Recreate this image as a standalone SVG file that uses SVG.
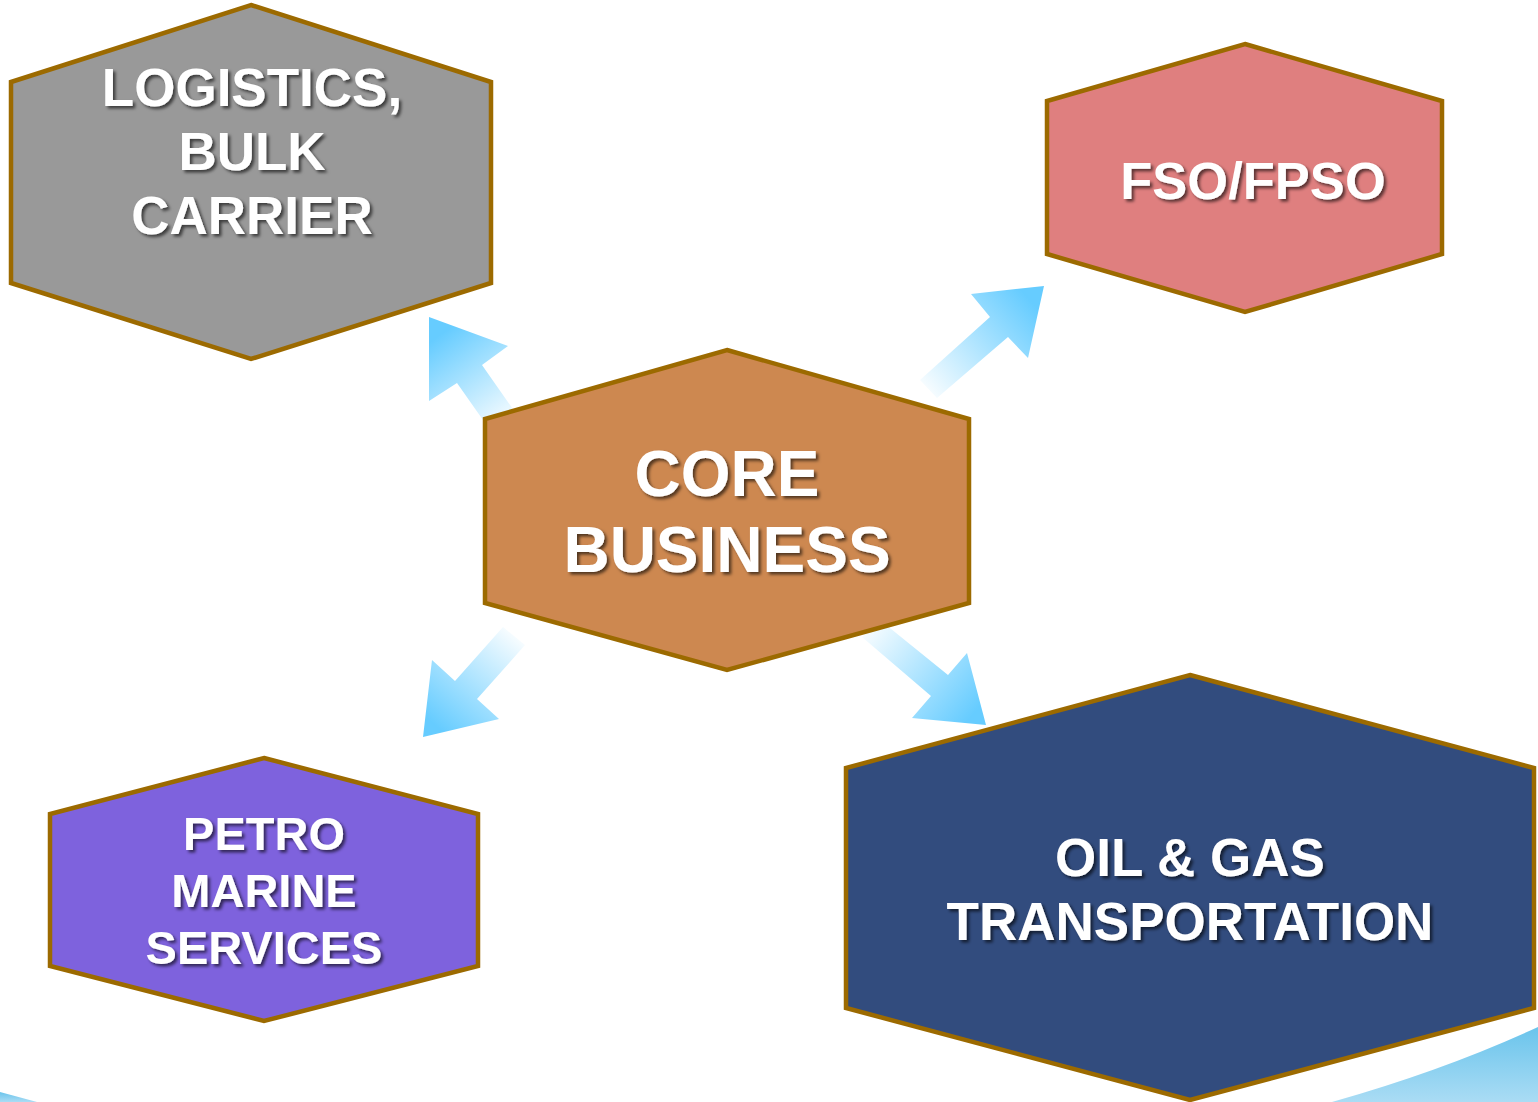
<svg xmlns="http://www.w3.org/2000/svg" width="1538" height="1102" viewBox="0 0 1538 1102">
<defs>
<style>
.hex{stroke:#9c6a00;stroke-width:4.5;stroke-linejoin:miter}
.lbl{font-family:"Liberation Sans",Arial,sans-serif;font-weight:bold;fill:#ffffff;text-anchor:middle;filter:url(#sh)}
</style>
<filter id="sh" x="-10%" y="-20%" width="120%" height="150%">
<feDropShadow dx="2.5" dy="2.5" stdDeviation="1.5" flood-color="#000" flood-opacity="0.6"/>
</filter>
<linearGradient id="g1" gradientUnits="userSpaceOnUse" x1="440" y1="335" x2="505" y2="425"><stop offset="0" stop-color="#66ccff"/><stop offset="1" stop-color="#66ccff" stop-opacity="0.05"/></linearGradient>
<linearGradient id="g2" gradientUnits="userSpaceOnUse" x1="1030" y1="300" x2="925" y2="392"><stop offset="0" stop-color="#66ccff"/><stop offset="1" stop-color="#66ccff" stop-opacity="0.03"/></linearGradient>
<linearGradient id="g3" gradientUnits="userSpaceOnUse" x1="435" y1="725" x2="515" y2="632"><stop offset="0" stop-color="#66ccff"/><stop offset="1" stop-color="#66ccff" stop-opacity="0.03"/></linearGradient>
<linearGradient id="g4" gradientUnits="userSpaceOnUse" x1="975" y1="712" x2="868" y2="625"><stop offset="0" stop-color="#66ccff"/><stop offset="1" stop-color="#66ccff" stop-opacity="0.03"/></linearGradient>
<linearGradient id="bg" x1="0" y1="0" x2="0" y2="1"><stop offset="0" stop-color="#6ac4ec"/><stop offset="1" stop-color="#aadcf4"/></linearGradient>
</defs>
<rect width="1538" height="1102" fill="#ffffff"/>
<path d="M1332,1102 Q1445,1070 1538,1027 L1538,1102 Z" fill="url(#bg)"/>
<path d="M0,1092 L37,1102 L0,1102 Z" fill="url(#bg)"/>
<g id="connectors">
<polygon points="429,317 508,346 482,365 515,412 490,430 457,383 429,401" fill="url(#g1)"/>
<polygon points="1044,286 971,294 990,317 920,380 937,398 1008,337 1028,358" fill="url(#g2)"/>
<polygon points="423,737 432,660 455,681 503,627 525,645 477,699 499,719" fill="url(#g3)"/>
<polygon points="986,725 967,653 948,675 880,620 862,637 931,696 912,718" fill="url(#g4)"/>
</g>
<g id="logistics">
<polygon class="hex" points="251,5 491,82 491,283 251,359 11,283 11,82" fill="#999999"/>
<text class="lbl" font-size="53" x="252" y="106">LOGISTICS,</text>
<text class="lbl" font-size="53" x="252" y="170">BULK</text>
<text class="lbl" font-size="53" x="252" y="234">CARRIER</text>
</g>
<g id="fso">
<polygon class="hex" points="1245,44 1442,101 1442,254 1245,312 1047,254 1047,101" fill="#df7f7f"/>
<text class="lbl" font-size="52.5" x="1253" y="199">FSO/FPSO</text>
</g>
<g id="core">
<polygon class="hex" points="727,350 969,419 969,603 727,670 485,603 485,419" fill="#cd8850"/>
<text class="lbl" font-size="64" x="727" y="496">CORE</text>
<text class="lbl" font-size="64" x="727" y="572">BUSINESS</text>
</g>
<g id="petro">
<polygon class="hex" points="264,758 478,814 478,966 264,1021 50,966 50,814" fill="#7e62dd"/>
<text class="lbl" font-size="47" x="264" y="850">PETRO</text>
<text class="lbl" font-size="47" x="264" y="907">MARINE</text>
<text class="lbl" font-size="47" x="264" y="964">SERVICES</text>
</g>
<g id="oilgas">
<polygon class="hex" points="1190,675 1534,768 1534,1008 1190,1100 846,1008 846,768" fill="#324c7e"/>
<text class="lbl" font-size="53" x="1190" y="876">OIL &amp; GAS</text>
<text class="lbl" font-size="53" x="1190" y="940">TRANSPORTATION</text>
</g>
</svg>
